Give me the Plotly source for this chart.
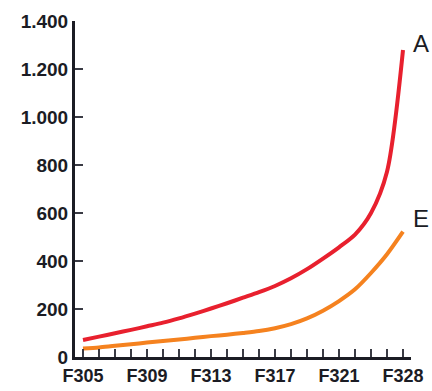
import plotly.graph_objects as go

# Category sequence along the x axis (labelled every fourth entry)
categories = ["F305", "F306", "F307", "F308", "F309", "F310", "F311", "F312",
              "F313", "F314", "F315", "F316", "F317", "F318", "F319", "F320",
              "F321", "F323", "F325", "F327", "F328"]

# Series values
series_a = [71, 85, 99, 113, 128, 143, 161, 181, 202, 224, 247,
            270, 296, 328, 366, 410, 457, 510, 600, 772, 1279]
series_e = [35, 40, 47, 53, 60, 67, 73, 80, 87, 93, 100,
            108, 120, 137, 161, 193, 233, 282, 350, 428, 522]

y_ticks = [0, 200, 400, 600, 800, 1000, 1200, 1400]
x_ticktext = [c if i % 4 == 0 else "" for i, c in enumerate(categories)]

RED = "#e8202e"
ORANGE = "#f5821f"
INK = "#1b1c24"
FONT = "Liberation Sans, Arial"

fig = go.Figure()
fig.add_trace(go.Scatter(x=categories, y=series_a, mode="lines", name="A",
                         line=dict(color=RED, width=4, shape="spline", smoothing=0.8)))
fig.add_trace(go.Scatter(x=categories, y=series_e, mode="lines", name="E",
                         line=dict(color=ORANGE, width=4, shape="spline", smoothing=0.8)))

# End-of-line labels
fig.add_annotation(x=1.0, y=0.932, xref="paper", yref="paper", text="A",
                   showarrow=False, xanchor="left", yanchor="middle",
                   font=dict(family=FONT, size=24, color=INK))
fig.add_annotation(x=1.0, y=0.413, xref="paper", yref="paper", text="E",
                   showarrow=False, xanchor="left", yanchor="middle",
                   font=dict(family=FONT, size=24, color=INK))

fig.update_layout(
    template="none",
    width=432, height=391,
    margin=dict(l=75, r=21, t=21, b=34, autoexpand=False),
    plot_bgcolor="white", paper_bgcolor="white",
    showlegend=False,
    separators=",.",
    font=dict(family=FONT, size=18, color=INK),
)
fig.update_xaxes(
    type="category", range=[-0.5, len(categories) - 0.5],
    tickmode="array", tickvals=categories, ticktext=x_ticktext,
    ticks="inside", ticklen=8, tickwidth=2, tickcolor="#3a3b44",
    showline=True, linecolor=INK, linewidth=3,
    showgrid=False, zeroline=False, automargin=False,
    tickfont=dict(family=FONT, size=18, color=INK, weight="bold"),
)
fig.update_yaxes(
    range=[0, 1400], tickmode="array", tickvals=y_ticks, tickformat=",d",
    ticksuffix="\u00a0\u00a0\u00a0",
    ticks="inside", ticklen=8, tickwidth=2, tickcolor="#3a3b44",
    showline=True, linecolor=INK, linewidth=3,
    showgrid=False, zeroline=False, automargin=False,
    tickfont=dict(family=FONT, size=19, color=INK, weight="bold"),
)

fig.write_html("out.html")
